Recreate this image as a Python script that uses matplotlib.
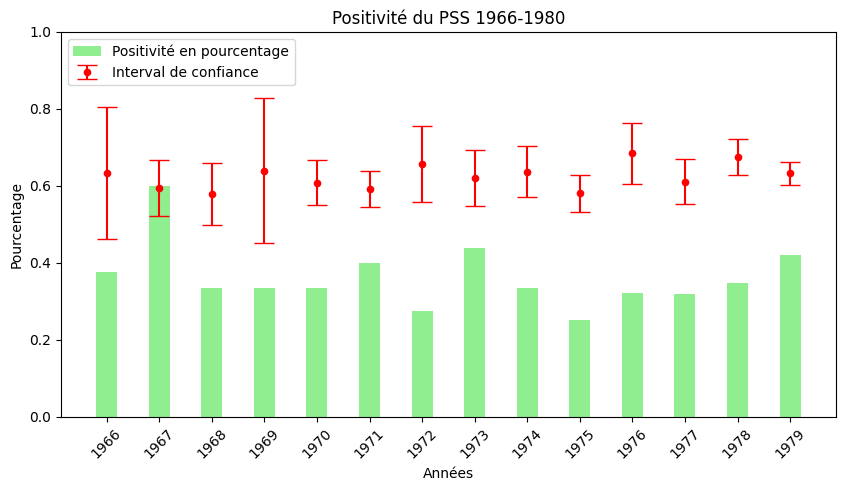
import numpy as np
import matplotlib.pyplot as plt

annees = ['1966', '1967', '1968', '1969', '1970', '1971', '1972',
          '1973', '1974', '1975', '1976', '1977', '1978', '1979']
positivite = [0.377, 0.600, 0.335, 0.335, 0.335, 0.400, 0.275,
              0.439, 0.335, 0.252, 0.322, 0.319, 0.348, 0.421]
centre = [0.633, 0.594, 0.578, 0.638, 0.607, 0.591, 0.656,
          0.620, 0.636, 0.581, 0.685, 0.610, 0.675, 0.633]
borne_inf = [0.461, 0.522, 0.498, 0.451, 0.550, 0.545, 0.558,
             0.547, 0.571, 0.532, 0.604, 0.552, 0.628, 0.602]
borne_sup = [0.804, 0.667, 0.659, 0.828, 0.667, 0.638, 0.755,
             0.693, 0.703, 0.628, 0.763, 0.669, 0.721, 0.662]

x = np.arange(len(annees))
centre = np.array(centre)
err = [centre - np.array(borne_inf), np.array(borne_sup) - centre]

fig, ax = plt.subplots(figsize=(8.46, 4.91), dpi=100)
fig.subplots_adjust(left=0.072, right=0.988, top=0.935, bottom=0.151)

ax.bar(x, positivite, width=0.4, color='lightgreen', label='Positivité en pourcentage')
ax.errorbar(x, centre, yerr=err, fmt='o', color='red', ms=4.5, capsize=7,
            label='Interval de confiance')

ax.set_xticks(x)
ax.set_xticklabels(annees, rotation=45)
ax.set_ylim(0, 1)
ax.set_xlabel('Années')
ax.set_ylabel('Pourcentage')
ax.set_title('Positivité du PSS 1966-1980')
ax.legend(loc='upper left')

plt.savefig('out.png')
